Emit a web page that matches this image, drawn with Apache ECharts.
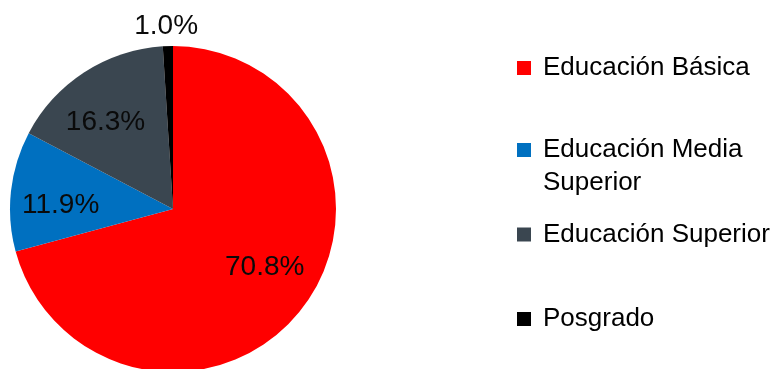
<!DOCTYPE html>
<html>
<head>
<meta charset="utf-8">
<script src="https://cdn.jsdelivr.net/npm/echarts@6/dist/echarts.min.js"></script>
<style>
  html, body { margin: 0; padding: 0; background: #ffffff; }
  #chart { width: 784px; height: 369px; }
</style>
</head>
<body>
<div id="chart"></div>
<script>
// Distribution by education level (percent)
const categories = ['Educación Básica', 'Educación Media Superior', 'Educación Superior', 'Posgrado'];
const shares = [70.8, 11.9, 16.3, 1.0];
const sliceColors = ['#FF0000', '#0070C0', '#3A4650', '#000000'];

const FONT = 'Liberation Sans, Arial, sans-serif';
const CX = 173, CY = 209, R = 163;

// small per-slice nudges of the value labels
const labelNudges = [[2, -10], [0, 9], [-6, 8], [-1, 4]];

const chart = echarts.init(document.getElementById('chart'), null, { renderer: 'canvas' });

const baseData = categories.map((name, i) => ({
  name,
  value: shares[i],
  itemStyle: { color: sliceColors[i] }
}));

// Transparent pie used only to place value labels at a chosen radius
function labelRing(radius, showIndex) {
  return {
    type: 'pie',
    center: [CX, CY],
    radius: radius,
    startAngle: 90,
    clockwise: true,
    silent: true,
    legendHoverLink: false,
    emphasis: { disabled: true },
    itemStyle: { color: 'transparent', borderWidth: 0 },
    labelLine: { show: false },
    data: categories.map((name, i) => ({
      name,
      value: shares[i],
      label: {
        show: showIndex(i),
        position: 'inside',
        formatter: shares[i].toFixed(1) + '%',
        offset: labelNudges[i],
        fontSize: 28,
        fontFamily: FONT,
        color: '#0a0a0a'
      }
    }))
  };
}

// Legend entries, one block each so their vertical spacing can be set freely
const legendCenters = [68, 150, 234.5, 319];
const legends = categories.map((name, i) => {
  const twoLine = name === 'Educación Media Superior';
  return {
    orient: 'vertical',
    left: 517,
    top: twoLine ? legendCenters[i] - 49.5 : legendCenters[i] - 15,
    padding: 0,
    itemWidth: 14,
    itemHeight: 14,
    icon: 'rect',
    selectedMode: false,
    data: [{ name, itemStyle: { color: sliceColors[i] } }],
    // blank first line keeps the marker level with "Educación Media"
    formatter: n => twoLine ? ' \nEducación Media\nSuperior' : n,
    textStyle: {
      fontSize: 26,
      fontFamily: FONT,
      color: '#000000',
      lineHeight: twoLine ? 33 : 30,
      padding: [0, 0, 0, 7]
    }
  };
});

chart.setOption({
  animation: false,
  backgroundColor: '#ffffff',
  legend: legends,
  series: [
    {
      type: 'pie',
      center: [CX, CY],
      radius: R,
      startAngle: 90,
      clockwise: true,
      silent: true,
      label: { show: false },
      labelLine: { show: false },
      itemStyle: { borderWidth: 0 },
      data: baseData
    },
    labelRing(220, i => i !== 3),
    labelRing(368, i => i === 3)
  ]
});
</script>
</body>
</html>
